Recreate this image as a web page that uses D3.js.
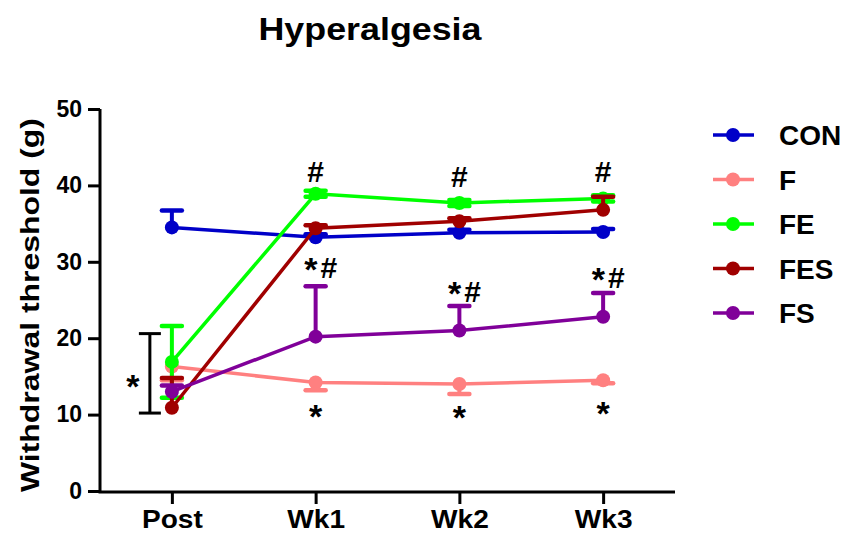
<!DOCTYPE html>
<html>
<head>
<meta charset="UTF-8">
<style>
  body { margin: 0; background: #fff; }
  text { font-family: "Liberation Sans", Arial, sans-serif; font-weight: bold; }
</style>
</head>
<body>
<svg id="chart"></svg>
<script src="https://d3js.org/d3.v7.min.js"></script>
<script>
// ---- data ----
const categories = ["Post", "Wk1", "Wk2", "Wk3"];
const groups = ["CON", "F", "FE", "FES", "FS"];
const colors = ["#0000c8", "#ff8080", "#00ff00", "#a00000", "#800099"];

const conMean = [34.5, 33.2, 33.8, 33.9];
const fMean   = [16.3, 14.2, 14.0, 14.5];
const feMean  = [16.9, 38.9, 37.7, 38.3];
const fesMean = [10.9, 34.4, 35.3, 36.8];
const fsMean  = [13.0, 20.2, 21.0, 22.8];

const conSem = [2.2, 0.4, 0.4, 0.4];
const fSem   = [1.8, 1.0, 1.3, 0.4];
const feSem  = [4.7, 0.4, 0.4, 0.4];
const fesSem = [3.9, 0.4, 0.4, 1.7];
const fsSem  = [0.8, 6.6, 3.2, 3.1];

const errDir = ["up", "down", "both", "up", "up"];

const yTicks = [0, 10, 20, 30, 40, 50];

// significance marks: category, baseline (data units), label
const marks = [
  { cat: "Wk1", y: 40.4, label: "#" },
  { cat: "Wk2", y: 39.8, label: "#" },
  { cat: "Wk3", y: 40.4, label: "#" },
  { cat: "Wk1", y: 27.9, label: "*#" },
  { cat: "Wk2", y: 24.8, label: "*#" },
  { cat: "Wk3", y: 26.6, label: "*#" },
  { cat: "Wk1", y: 8.3, label: "*" },
  { cat: "Wk2", y: 8.1, label: "*" },
  { cat: "Wk3", y: 8.7, label: "*" }
];
const postBracket = [10.2, 20.6];

// ---- layout ----
const width = 850, height = 533;
const svg = d3.select("#chart").attr("width", width).attr("height", height);

const x = d3.scalePoint().domain(categories).range([100, 675]).padding(0.5);
const y = d3.scaleLinear().domain([0, 50]).range([491, 109]);

const sems = [conSem, fSem, feSem, fesSem, fsSem];
const series = [conMean, fMean, feMean, fesMean, fsMean].map((m, i) => ({
  name: groups[i], color: colors[i], dir: errDir[i],
  points: m.map((v, j) => ({ cat: categories[j], v: v, sem: sems[i][j] }))
}));

// title
svg.append("text").attr("x", 370).attr("y", 40).attr("text-anchor", "middle")
  .attr("textLength", 223).attr("lengthAdjust", "spacingAndGlyphs")
  .style("font-size", "31px").text("Hyperalgesia");

// y label
svg.append("text")
  .attr("transform", "translate(39," + 305 + ") rotate(-90)")
  .attr("text-anchor", "middle").style("font-size", "26px")
  .attr("textLength", 374).attr("lengthAdjust", "spacingAndGlyphs")
  .text("Withdrawal threshold (g)");

// axes
const yAxis = svg.append("g").attr("transform", "translate(100,0)")
  .call(d3.axisLeft(y).tickValues(yTicks).tickSize(12).tickPadding(6).tickSizeOuter(0));
const xAxis = svg.append("g").attr("transform", "translate(0,492)")
  .call(d3.axisBottom(x).tickSize(12).tickPadding(6).tickSizeOuter(0));
[yAxis, xAxis].forEach(a => {
  a.select(".domain").attr("stroke", "#000").attr("stroke-width", 3);
  a.selectAll(".tick line").attr("stroke", "#000").attr("stroke-width", 3);
  a.selectAll(".tick text").attr("fill", "#000");
});
yAxis.selectAll(".tick text").style("font-size", "23px");
xAxis.selectAll(".tick text").style("font-size", "26px")
  .attr("textLength", function () { return this.getComputedTextLength() * 1.08; })
  .attr("lengthAdjust", "spacingAndGlyphs");
yAxis.select(".domain").attr("d", "M0," + y(50) + "V" + (y(0) + 1.5));
xAxis.select(".domain").attr("d", "M98.5,0H" + 675);

// series
const line = d3.line().x(d => x(d.cat)).y(d => y(d.v));
series.forEach(s => {
  const g = svg.append("g");
  // error bars
  s.points.forEach(p => {
    const top = s.dir === "down" ? p.v : p.v + p.sem;
    const bot = s.dir === "up" ? p.v : p.v - p.sem;
    g.append("line").attr("x1", x(p.cat)).attr("x2", x(p.cat))
      .attr("y1", y(top)).attr("y2", y(bot))
      .attr("stroke", s.color).attr("stroke-width", 4);
    const caps = s.dir === "both" ? [top, bot] : [s.dir === "up" ? top : bot];
    caps.forEach(c => {
      g.append("line").attr("x1", x(p.cat) - 10).attr("x2", x(p.cat) + 10)
        .attr("y1", y(c)).attr("y2", y(c))
        .attr("stroke", s.color).attr("stroke-width", 4.5).attr("stroke-linecap", "round");
    });
  });
  g.append("path").datum(s.points).attr("d", line)
    .attr("fill", "none").attr("stroke", s.color).attr("stroke-width", 3.5);
  g.selectAll("circle").data(s.points).enter().append("circle")
    .attr("cx", d => x(d.cat)).attr("cy", d => y(d.v)).attr("r", 7)
    .attr("fill", s.color);
});

// bracket at Post
const bx = x("Post") - 22;
const br = svg.append("g").attr("stroke", "#000").attr("stroke-width", 3);
br.append("line").attr("x1", bx).attr("x2", bx).attr("y1", y(postBracket[0])).attr("y2", y(postBracket[1]));
postBracket.forEach(v => br.append("line").attr("x1", bx - 11).attr("x2", bx + 11).attr("y1", y(v)).attr("y2", y(v)));
svg.append("text").attr("x", bx - 17).attr("y", y(d3.mean(postBracket)) + 25)
  .attr("text-anchor", "middle").style("font-size", "34px").text("*");

// significance marks; asterisks drawn a bit larger
const mk = svg.selectAll(".mark").data(marks).enter().append("text").attr("class", "mark")
  .attr("x", d => x(d.cat) + (d.label === "*#" ? 5 : 0))
  .attr("y", d => y(d.y))
  .attr("text-anchor", "middle").style("font-size", "30px");
mk.each(function (d) {
  const t = d3.select(this);
  d.label.split("").forEach((ch, k) => {
    t.append("tspan").text(ch)
      .style("font-size", ch === "*" ? "34px" : null)
      .attr("dy", ch === "*" && d.label.length > 1 ? 3 : (k > 0 ? -3 : null))
      .attr("dx", k > 0 ? 3 : null);
  });
});

// legend
const leg = svg.append("g").attr("transform", "translate(713,135)");
groups.forEach((gname, i) => {
  const row = leg.append("g").attr("transform", "translate(0," + (i * 44.5) + ")");
  row.append("line").attr("x1", 0).attr("x2", 41).attr("stroke", colors[i]).attr("stroke-width", 3.5);
  row.append("circle").attr("cx", 20).attr("r", 7).attr("fill", colors[i]);
  row.append("text").attr("x", 66).attr("y", 10).style("font-size", "28px").text(gname);
});
</script>
</body>
</html>
